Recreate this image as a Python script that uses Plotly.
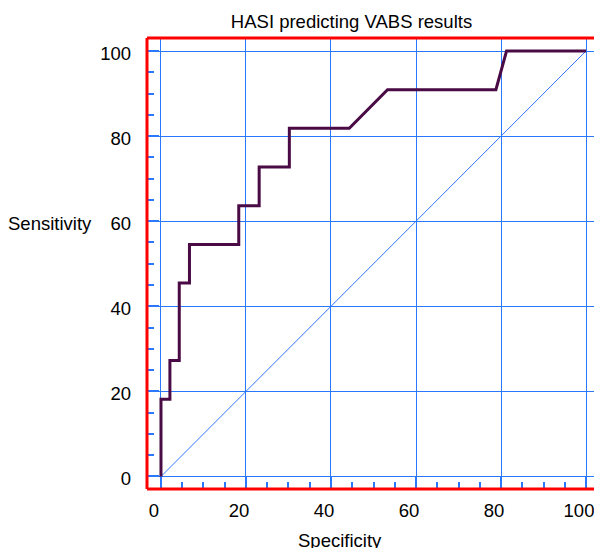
import plotly.graph_objects as go

# ROC curve data
specificity = [0, 0, 2.1, 2.1, 4.3, 4.3, 6.7, 6.7, 18.3, 18.3, 23.1, 23.1, 30.2, 30.2, 44.3, 53.3, 78.8, 81.3, 100]
sensitivity = [0, 18.18, 18.18, 27.27, 27.27, 45.45, 45.45, 54.55, 54.55, 63.64, 63.64, 72.73, 72.73, 81.82, 81.82, 90.91, 90.91, 100, 100]
diag_x = [0, 100]
diag_y = [0, 100]
tick_vals = [0, 20, 40, 60, 80, 100]
tick_text = ["0", "20", "40", "60", "80", "100"]

BLUE = "#2a78ff"
RED = "#ff0000"
CURVE = "#4a0a45"
FONT = "Liberation Sans, Arial, sans-serif"
FS = 18.5

W, H = 594, 548
ML, MR, MT, MB = 147, 0, 38, 59
PW = W - ML - MR
PH = H - MT - MB

fig = go.Figure()
fig.add_trace(go.Scatter(x=diag_x, y=diag_y, mode="lines",
                         line=dict(color=BLUE, width=1), hoverinfo="skip", showlegend=False))
fig.add_trace(go.Scatter(x=specificity, y=sensitivity, mode="lines",
                         line=dict(color=CURVE, width=3), showlegend=False))

axis_common = dict(
    tickvals=tick_vals, ticktext=tick_text,
    showgrid=True, gridcolor=BLUE, gridwidth=1, zeroline=False,
    ticks="inside", ticklen=12, tickwidth=2, tickcolor=BLUE,
    minor=dict(dtick=5, ticks="inside", ticklen=7, tickwidth=2, tickcolor=BLUE, showgrid=False),
    tickfont=dict(family=FONT, size=FS, color="black"),
    showline=False,
    ticklabeloverflow="allow",
)

fig.update_layout(
    width=W, height=H,
    margin=dict(l=ML, r=MR, t=MT, b=MB, pad=0),
    paper_bgcolor="white", plot_bgcolor="white",
    font=dict(family=FONT, size=FS, color="black"),
    title=dict(text="HASI predicting VABS results", x=351.5 / W, xref="container", xanchor="center",
               y=1 - 21.7 / H, yref="container", yanchor="middle",
               font=dict(family=FONT, size=FS, color="black")),
    xaxis=dict(range=[-3.29, 101.88], ticklabelshift=-7, ticklabelstandoff=8, **axis_common),
    yaxis=dict(range=[-2.94, 103.06], ticklabelstandoff=15, ticklabelshift=2, **axis_common),
    showlegend=False,
)

# red frame (left, top, bottom)
for x0, y0, x1, y1 in [(0, 0, 0, 1), (0, 1, 1.05, 1), (0, 0, 1.05, 0)]:
    fig.add_shape(type="line", xref="paper", yref="paper", x0=x0, y0=y0, x1=x1, y1=y1,
                  line=dict(color=RED, width=3), layer="above")

fig.add_annotation(text="Specificity", xref="paper", yref="paper",
                   x=(340.3 - ML) / PW, y=(H - MB - 540) / PH, xanchor="center", yanchor="middle",
                   showarrow=False, font=dict(family=FONT, size=FS, color="black"))
fig.add_annotation(text="Sensitivity", xref="paper", yref="paper",
                   x=(94 - ML) / PW, y=(H - MB - 223.3) / PH, xanchor="right", yanchor="middle",
                   showarrow=False, font=dict(family=FONT, size=FS, color="black"))

fig.write_html("out.html")
